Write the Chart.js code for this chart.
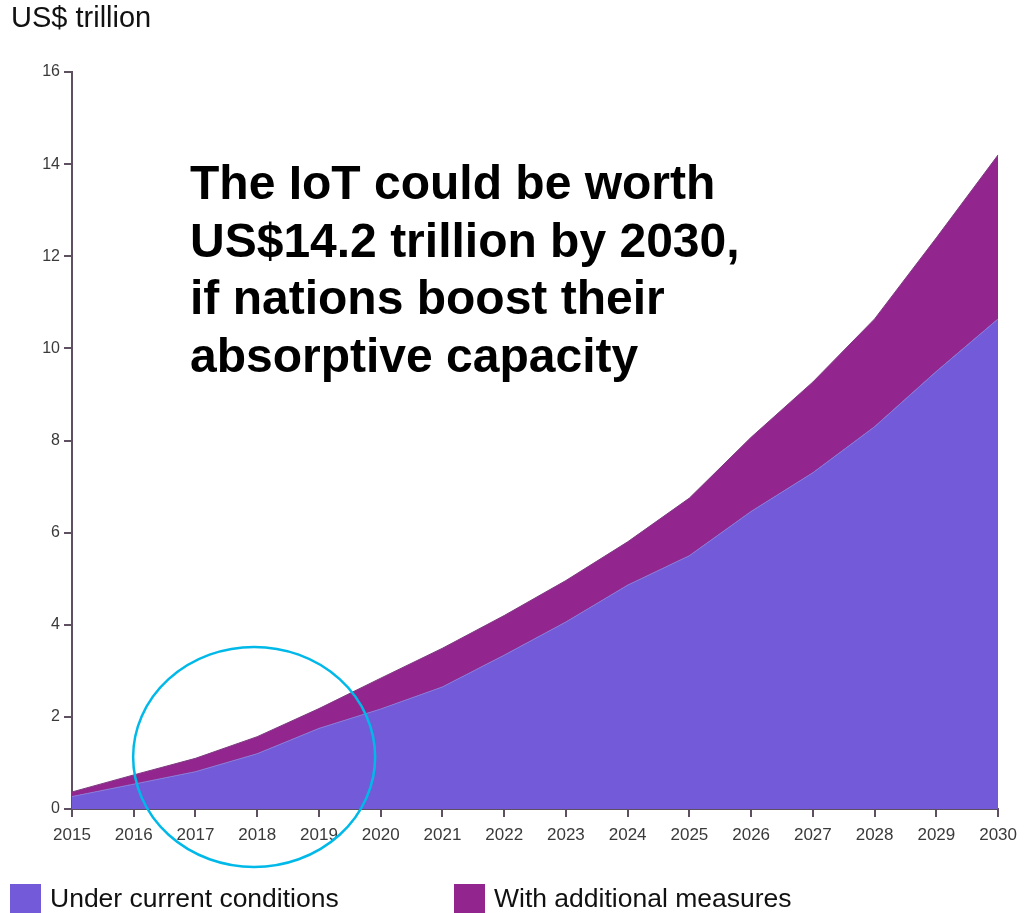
<!DOCTYPE html>
<html>
<head>
<meta charset="utf-8">
<script src="https://cdn.jsdelivr.net/npm/chart.js@4.4.0/dist/chart.umd.min.js"></script>
<style>
  html, body { margin: 0; padding: 0; background: #fff; }
  body { width: 1025px; height: 913px; position: relative; overflow: hidden; font-family: "Liberation Sans", Arial, sans-serif; }
  #unit { position: absolute; left: 11px; top: 3px; font-size: 29px; line-height: 28px; color: #111; }
  #wrap { position: absolute; left: 0; top: 0; width: 1025px; height: 913px; }
  #note { position: absolute; left: 190px; top: 154px; font-size: 48px; font-weight: bold; line-height: 57.5px; color: #000; }
  .leg { position: absolute; top: 884px; height: 29px; display: flex; align-items: center; font-size: 26.5px; color: #111; }
  .leg span.box { width: 31px; height: 29px; display: inline-block; margin-right: 9px; }
</style>
</head>
<body>
<div id="wrap"><canvas id="chart"></canvas></div>
<div id="unit">US$ trillion</div>
<div id="note">The IoT could be worth<br>US$14.2 trillion by 2030,<br>if nations boost their<br>absorptive capacity</div>
<div class="leg" style="left:10px"><span class="box" style="background:#735AD8"></span>Under current conditions</div>
<div class="leg" style="left:454px"><span class="box" style="background:#93268E"></span>With additional measures</div>
<script>
// data (US$ trillion)
const years = ['2015','2016','2017','2018','2019','2020','2021','2022','2023','2024','2025','2026','2027','2028','2029','2030'];
const currentConditions = [0.27, 0.54, 0.81, 1.2, 1.75, 2.17, 2.65, 3.34, 4.06, 4.86, 5.5, 6.46, 7.3, 8.3, 9.5, 10.64];
const withMeasures = [0.37, 0.74, 1.1, 1.57, 2.18, 2.84, 3.49, 4.2, 4.96, 5.8, 6.75, 8.07, 9.27, 10.64, 12.4, 14.2];
const yTicks = [0, 2, 4, 6, 8, 10, 12, 14, 16];

const axisColor = '#5e5060';

// cyan ring round 2016-2019
const ringPlugin = {
  id: 'ring',
  afterDatasetsDraw(chart) {
    const ctx = chart.ctx;
    const x = chart.scales.x, y = chart.scales.y;
    const cx = x.getPixelForValue(2.95);
    const cy = y.getPixelForValue(1.13);
    ctx.save();
    ctx.beginPath();
    ctx.ellipse(cx, cy, 121, 110, 0, 0, Math.PI * 2);
    ctx.strokeStyle = '#00B9E8';
    ctx.lineWidth = 2.5;
    ctx.stroke();
    ctx.restore();
  }
};

new Chart(document.getElementById('chart'), {
  type: 'line',
  data: {
    labels: years,
    datasets: [
      {
        label: 'Under current conditions',
        data: currentConditions,
        fill: 'origin',
        backgroundColor: '#735AD8',
        borderColor: '#8878d6',
        borderWidth: 1,
        pointRadius: 0,
        tension: 0
      },
      {
        label: 'With additional measures',
        data: withMeasures,
        fill: '-1',
        backgroundColor: '#93268E',
        borderColor: '#7d3c80',
        borderWidth: 1,
        pointRadius: 0,
        tension: 0
      }
    ]
  },
  options: {
    responsive: true,
    maintainAspectRatio: false,
    animation: false,
    layout: { padding: { top: 72, right: 25, left: 0, bottom: 0 } },
    plugins: {
      legend: { display: false },
      tooltip: { enabled: false }
    },
    scales: {
      x: {
        offset: false,
        grid: { drawOnChartArea: false, drawTicks: true, tickLength: 8, color: axisColor, lineWidth: 2 },
        border: { color: axisColor, width: 2 },
        ticks: { color: '#3a3a3a', font: { size: 17, family: 'Liberation Sans' }, padding: 8, maxRotation: 0, autoSkip: false },
        afterFit(s) { s.height = 104; }
      },
      y: {
        min: 0,
        max: 16,
        afterBuildTicks(s) { s.ticks = yTicks.map(v => ({ value: v })); },
        grid: { drawOnChartArea: false, drawTicks: true, tickLength: 8, color: axisColor, lineWidth: 2 },
        border: { color: axisColor, width: 2 },
        ticks: { color: '#3a3a3a', font: { size: 16, family: 'Liberation Sans' }, padding: 4 },
        afterFit(s) { s.width = 72; }
      }
    }
  },
  plugins: [ringPlugin]
});
</script>
</body>
</html>
